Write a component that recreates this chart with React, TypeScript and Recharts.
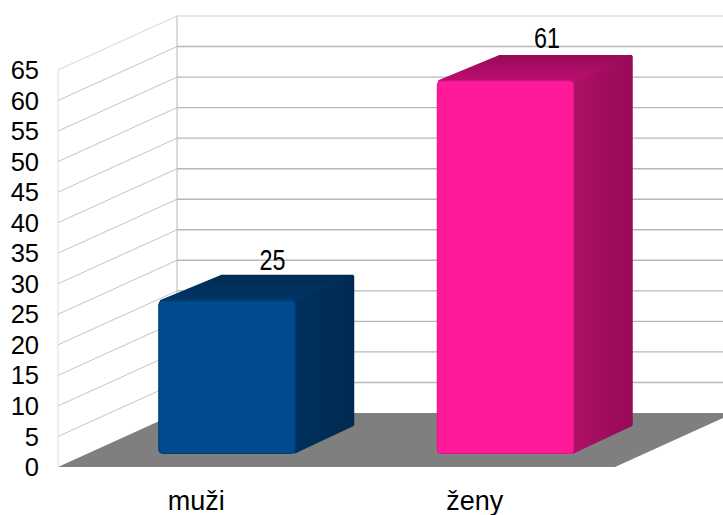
import React from 'react';
import { BarChart, Bar, XAxis, YAxis, CartesianGrid, LabelList, Cell } from 'recharts';

const categories = ['muži', 'ženy'];
const counts = [25, 61];
const yTicks = [0, 5, 10, 15, 20, 25, 30, 35, 40, 45, 50, 55, 60, 65];

const chartData = categories.map((name, i) => ({ name, count: counts[i] }));

// depth of the fake 3D box, front plane to back wall
const DEPTH_X = 119;
const DEPTH_Y = 54;
const PLOT_LEFT = 58;
const PLOT_RIGHT = 615;
const PLOT_TOP = 70;
const PLOT_BOTTOM = 467;
const WIDTH = 723;
const FONT = '"Liberation Sans", Arial, sans-serif';

const faces = [
  { front: '#004a8e', edge: '#003c74', topA: '#002c55', topB: '#003567', sideA: '#00315c', sideB: '#002a52' },
  { front: '#ff1a9a', edge: '#e01288', topA: '#980a5a', topB: '#bb0f70', sideA: '#ae1064', sideB: '#970a58' },
];

// data labels sit a little differently on each bar in the original
const labelNudge = [
  { dx: 75, dy: -54 },
  { dx: 71, dy: -56.5 },
];

function WallLine(props: any) {
  const { y1 } = props;
  const backY = y1 - DEPTH_Y;
  const backX = PLOT_LEFT + DEPTH_X;
  const isFloor = Math.abs(y1 - PLOT_BOTTOM) < 1;
  const isTop = Math.abs(y1 - PLOT_TOP) < 1;
  if (isFloor) {
    return (
      <g>
        <line x1={PLOT_LEFT} y1={PLOT_TOP} x2={PLOT_LEFT} y2={PLOT_BOTTOM} stroke="#dcdcdc" />
        <line x1={backX} y1={PLOT_TOP - DEPTH_Y} x2={backX} y2={backY} stroke="#b8b8b8" />
        <polygon
          points={`${PLOT_LEFT},${PLOT_BOTTOM} ${PLOT_RIGHT},${PLOT_BOTTOM} ${PLOT_RIGHT + DEPTH_X},${backY} ${backX},${backY}`}
          fill="#7f7f7f"
        />
      </g>
    );
  }
  return (
    <g>
      <line x1={PLOT_LEFT} y1={y1} x2={backX} y2={backY} stroke={isTop ? '#d4d4d4' : '#c4c4c4'} />
      <line x1={backX} y1={backY} x2={WIDTH} y2={backY} stroke={isTop ? '#e0e0e0' : '#b8b8b8'} strokeWidth={1.4} />
    </g>
  );
}

function Box3D(props: any) {
  const { x, y, width, height, index } = props;
  const f = faces[index];
  // bar stands in the middle of the floor depth
  const fx = x + DEPTH_X / 4;
  const fy = y - DEPTH_Y / 4;
  const dx = DEPTH_X / 2;
  const dy = DEPTH_Y / 2;
  const r = fx + width;
  const b = fy + height;
  return (
    <g>
      <defs>
        <linearGradient id={`top${index}`} x1="0" y1="0" x2="0" y2="1">
          <stop offset="0" stopColor={f.topA} />
          <stop offset="1" stopColor={f.topB} />
        </linearGradient>
        <linearGradient id={`side${index}`} x1="0" y1="0" x2="1" y2="0">
          <stop offset="0" stopColor={f.sideA} />
          <stop offset="1" stopColor={f.sideB} />
        </linearGradient>
      </defs>
      <polygon
        points={`${r - 1},${fy + 1} ${r + dx - 3},${fy - dy + 3} ${r + dx - 3},${b - dy - 2} ${r - 1},${b - 2}`}
        fill={`url(#side${index})`}
        stroke={`url(#side${index})`}
        strokeWidth={4}
        strokeLinejoin="round"
      />
      <polygon
        points={`${fx + 2},${fy} ${fx + dx + 3},${fy - dy + 2} ${r + dx - 3},${fy - dy + 2} ${r},${fy}`}
        fill={`url(#top${index})`}
        stroke={`url(#top${index})`}
        strokeWidth={2}
        strokeLinejoin="round"
      />
      <rect x={fx} y={fy} width={width - 0.5} height={height} rx={4} fill={f.front} stroke={f.edge} strokeWidth={1} />
    </g>
  );
}

function ValueLabel(props: any) {
  const { x, y, width, value, index } = props;
  const n = labelNudge[index];
  return (
    <text
      x={x + width / 2 + n.dx}
      y={y + n.dy}
      textAnchor="middle"
      dominantBaseline="central"
      fontFamily={FONT}
      fontSize={29}
      fill="#000"
      textLength={26}
      lengthAdjust="spacingAndGlyphs"
    >
      {value}
    </text>
  );
}

export default function App() {
  return (
    <div style={{ position: 'absolute', left: 0, top: 0, width: WIDTH, height: 515 }}>
      <BarChart
        width={WIDTH}
        height={515}
        data={chartData}
        margin={{ top: PLOT_TOP, right: WIDTH - PLOT_RIGHT, bottom: 0, left: 0 }}
        barSize={137}
      >
        <CartesianGrid horizontal={(p: any) => <WallLine key={p.key} {...p} />} vertical={false} />
        <XAxis
          dataKey="name"
          height={515 - PLOT_BOTTOM}
          axisLine={false}
          tickLine={false}
          tickSize={0}
          tickMargin={24}
          tick={{ fill: '#000', fontSize: 27, fontFamily: FONT, dx: -1 }}
        />
        <YAxis
          width={58}
          domain={[0, 65]}
          ticks={yTicks}
          interval={0}
          axisLine={false}
          tickLine={false}
          tickSize={0}
          tickMargin={19}
          tick={{ fill: '#000', fontSize: 25.5, fontFamily: FONT }}
        />
        <Bar dataKey="count" shape={Box3D} isAnimationActive={false}>
          {chartData.map((d, i) => (
            <Cell key={d.name} fill={faces[i].front} />
          ))}
          <LabelList dataKey="count" content={ValueLabel} />
        </Bar>
      </BarChart>
    </div>
  );
}
